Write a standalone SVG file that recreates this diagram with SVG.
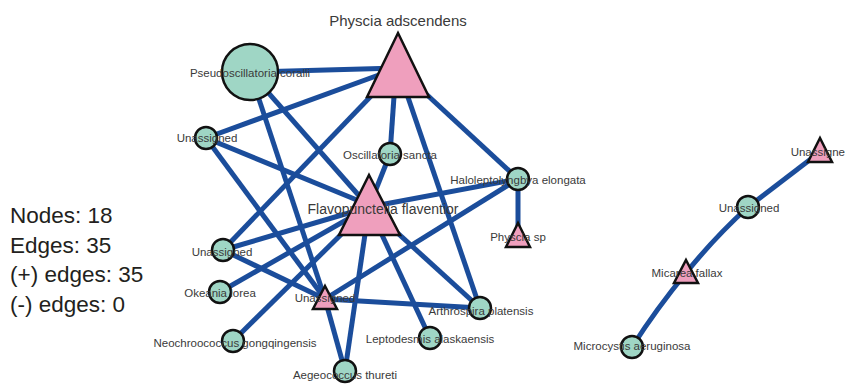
<svg xmlns="http://www.w3.org/2000/svg" width="845" height="387" viewBox="0 0 845 387">
<style>
.e{stroke:#1b4d9b;stroke-width:5;fill:none}
.c{fill:#9fd6c5;stroke:#111;stroke-width:2.5}
.t{fill:#ef9fbd;stroke:#111;stroke-width:2.5;stroke-linejoin:miter}
.l{font-family:"Liberation Sans",Arial,sans-serif;font-size:11.5px;fill:#3a3a3a;text-anchor:middle}
.big{font-size:14px}
.leg{font-family:"Liberation Sans",Arial,sans-serif;font-size:22.5px;fill:#231f20}
</style>
<rect width="845" height="387" fill="#fff"/>
<g id="legend">
<text class="leg" x="10" y="223">Nodes: 18</text>
<text class="leg" x="10" y="252.5">Edges: 35</text>
<text class="leg" x="10" y="282">(+) edges: 35</text>
<text class="leg" x="10" y="311.5">(-) edges: 0</text>
</g>
<g id="connectors">
<path class="e" d="M398,68 L250,72"/>
<path class="e" d="M398,68 L206,138"/>
<path class="e" d="M396,68 L390,154"/>
<path class="e" d="M398,68 L518,179"/>
<path class="e" d="M398,68 L223,250"/>
<path class="e" d="M398,68 L480,308"/>
<path class="e" d="M250,72 L369,207"/>
<path class="e" d="M250,72 L325,299"/>
<path class="e" d="M206,138 L369,205"/>
<path class="e" d="M206,138 L325,299"/>
<path class="e" d="M390,154 L369,207"/>
<path class="e" d="M223,250 L369,207"/>
<path class="e" d="M223,250 L325,299"/>
<path class="e" d="M220,292 L369,207"/>
<path class="e" d="M233,341 L369,207"/>
<path class="e" d="M369,207 L518,179"/>
<path class="e" d="M369,207 L345,371"/>
<path class="e" d="M369,207 L430,338"/>
<path class="e" d="M369,207 L480,308"/>
<path class="e" d="M325,299 L518,179"/>
<path class="e" d="M325,299 L480,308"/>
<path class="e" d="M325,299 L345,371"/>
<path class="e" d="M518,179 L518,237"/>
<path class="e" d="M632,347 Q657,308 686,273"/>
<path class="e" d="M686,273 Q714,238 748,207"/>
<path class="e" d="M748,207 L820,152"/>
</g>
<g id="n-pseudoscillatoria"><circle class="c" cx="250" cy="72" r="28"/><text class="l" x="250" y="77">Pseudoscillatoria coralli</text></g>
<g id="n-physcia-adscendens"><polygon class="t" points="398,33 429,97 367,97"/><text class="l" style="font-size:15px" x="398" y="26">Physcia adscendens</text></g>
<g id="n-unassigned-1"><circle class="c" cx="206" cy="138" r="11"/><text class="l" x="207" y="142">Unassigned</text></g>
<g id="n-oscillatoria"><circle class="c" cx="390" cy="154" r="11"/><text class="l" x="390" y="159">Oscillatoria sancta</text></g>
<g id="n-flavopunctelia"><polygon class="t" points="369,175 400,235 339,235"/><text class="l big" x="383" y="214">Flavopunctelia flaventior</text></g>
<g id="n-haloleptolyngbya"><circle class="c" cx="518" cy="179" r="11"/><text class="l" x="518" y="184">Haloleptolyngbya elongata</text></g>
<g id="n-physcia-sp"><polygon class="t" points="518,223 530,247 506,247"/><text class="l" x="518" y="241">Physcia sp</text></g>
<g id="n-unassigned-2"><circle class="c" cx="223" cy="250" r="11"/><text class="l" x="222" y="256">Unassigned</text></g>
<g id="n-okeania"><circle class="c" cx="220" cy="292" r="11"/><text class="l" x="220" y="297">Okeania lorea</text></g>
<g id="n-unassigned-3"><polygon class="t" points="325,286 337,309 313,309"/><text class="l" x="325" y="302">Unassigned</text></g>
<g id="n-arthrospira"><circle class="c" cx="480" cy="308" r="11"/><text class="l" x="481" y="315">Arthrospira platensis</text></g>
<g id="n-neochroococcus"><circle class="c" cx="233" cy="341" r="11"/><text class="l" x="235" y="347">Neochroococcus gongqingensis</text></g>
<g id="n-leptodesmis"><circle class="c" cx="430" cy="338" r="11"/><text class="l" x="430" y="343">Leptodesmis alaskaensis</text></g>
<g id="n-aegeococcus"><circle class="c" cx="345" cy="371" r="11"/><text class="l" x="345" y="379">Aegeococcus thureti</text></g>
<g id="n-unassigned-4"><polygon class="t" points="820,138 832,162 808,162"/><text class="l" x="821" y="156">Unassigned</text></g>
<g id="n-unassigned-5"><circle class="c" cx="748" cy="207" r="11"/><text class="l" x="749" y="212">Unassigned</text></g>
<g id="n-micarea"><polygon class="t" points="686,260 698,283 674,283"/><text class="l" x="687" y="277">Micarea fallax</text></g>
<g id="n-microcystis"><circle class="c" cx="632" cy="347" r="11"/><text class="l" x="632" y="350">Microcystis aeruginosa</text></g>
</svg>
